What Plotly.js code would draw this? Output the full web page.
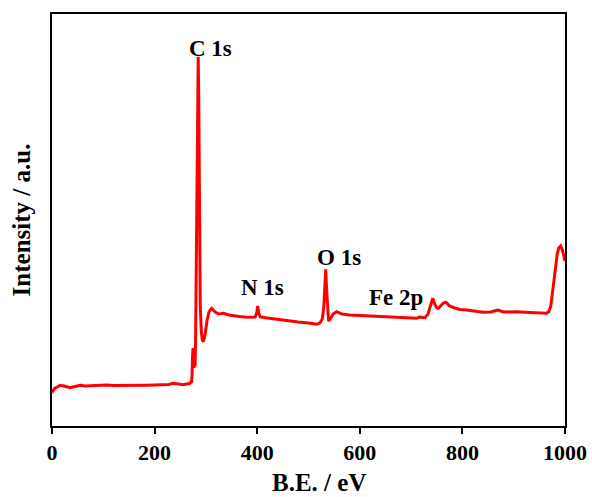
<!DOCTYPE html>
<html>
<head>
<meta charset="utf-8">
<script src="https://cdn.plot.ly/plotly-3.0.1.min.js"></script>
<style>
  html, body { margin: 0; padding: 0; background: #fff; }
  #chart { width: 592px; height: 497px; }
</style>
</head>
<body>
<div id="chart"></div>
<script>
// Binding energy (eV) and intensity (a.u.)
const bindingEnergy = [0, 3, 6, 10, 15, 22, 28, 35, 45, 55, 65, 80, 95, 107, 120, 140, 155, 171, 185, 200, 215, 228, 236, 245, 256, 262, 268, 272,
  273, 274, 275, 276, 277, 278, 279, 280, 282, 284, 285, 286, 287.5, 289, 291, 293, 295, 298, 302, 306, 311, 318, 325, 334, 345, 355, 365, 380, 390,
  396, 399, 401, 403, 406, 420, 440, 460, 480, 500, 516, 522, 527, 530, 532, 533.5, 535, 537, 539, 542, 548, 555, 565, 580, 600, 630, 660, 690,
  705, 711, 716, 720, 727, 733, 738, 742, 746, 750, 753, 758, 763, 768, 775, 785, 795, 808, 825, 840, 855, 862, 869, 880, 895, 906, 930, 950,
  964, 968, 972, 976, 979, 982, 985, 988, 991.6, 995, 998, 1000];
const intensity = [33.5, 36, 38, 39, 40.5, 40.3, 39.5, 38.3, 39.5, 40.7, 40, 40.5, 40.3, 41, 40.6, 40.5, 40.8, 40.3, 40.8, 41, 41.2, 41.5, 42.7, 41.8, 41.3, 42, 42.5, 44.3,
  50, 70, 78, 62, 58, 75, 60, 90, 200, 340, 369.3, 330, 200, 120, 95, 86, 84.3, 90, 105, 114, 117.7, 114, 112, 112.7, 111, 110, 109.5, 108.7, 108.5,
  109, 113, 120, 113, 109, 108, 106.5, 105, 104, 103, 101.7, 103, 107, 120, 145, 156.7, 140, 115, 105, 106.7, 112, 114.3, 112, 111, 110.5, 110, 109, 108,
  107.5, 107.7, 109, 108.5, 108.3, 112, 122, 127.7, 122, 118, 117.7, 120, 123, 123.7, 120, 118, 116.5, 116, 114.5, 113.7, 114, 115, 116, 114, 114.5, 114.3, 113.5, 113,
  112.7, 114, 119.3, 135, 146, 160, 172.7, 178, 180, 176, 169.3, 165];

const xTickValues = [0, 200, 400, 600, 800, 1000];
const xTickLabels = ["0", "200", "400", "600", "800", "1000"];

const peakLabels = ["C 1s", "N 1s", "O 1s", "Fe 2p"];
const peakLabelX = [308, 410, 559.5, 670];
const peakLabelY = [378, 138.5, 169, 129];

const xTitle = "B.E. / eV";
const yTitle = "Intensity / a.u.";

const font = "'Liberation Serif', 'Times New Roman', serif";

const trace = {
  x: bindingEnergy,
  y: intensity,
  type: 'scatter',
  mode: 'lines',
  line: { color: '#ff0000', width: 3 },
  hoverinfo: 'skip'
};

const annotations = peakLabels.map((t, i) => ({
  x: peakLabelX[i], y: peakLabelY[i], xref: 'x', yref: 'y',
  text: '<b>' + t + '</b>', showarrow: false,
  xanchor: 'center', yanchor: 'middle',
  font: { family: font, size: 23, color: '#000' }
}));
annotations.push({
  x: 0.52, y: -0.136, xref: 'paper', yref: 'paper',
  text: '<b>' + xTitle + '</b>', showarrow: false,
  xanchor: 'center', yanchor: 'middle', borderpad: 0,
  font: { family: font, size: 25, color: '#000' }
});

const layout = {
  width: 592, height: 497,
  margin: { l: 52, r: 27, t: 14, b: 71 },
  paper_bgcolor: '#fff', plot_bgcolor: '#fff',
  showlegend: false,
  xaxis: {
    range: [0, 1000], tickmode: 'array', tickvals: xTickValues, ticktext: xTickLabels,
    ticks: 'outside', ticklen: 6, tickwidth: 2, tickcolor: '#000',
    showline: true, linewidth: 2, linecolor: '#000', mirror: true,
    showgrid: false, zeroline: false,
    tickfont: { family: font, size: 22, color: '#000', weight: 'bold' }
  },
  yaxis: {
    range: [0, 412], showticklabels: false, ticks: '',
    showline: true, linewidth: 2, linecolor: '#000', mirror: true,
    showgrid: false, zeroline: false,
    title: { text: '<b>' + yTitle + '</b>', font: { family: font, size: 25, color: '#000' }, standoff: 12 }
  },
  annotations: annotations
};

Plotly.newPlot('chart', [trace], layout, { displayModeBar: false, staticPlot: true });
</script>
</body>
</html>
